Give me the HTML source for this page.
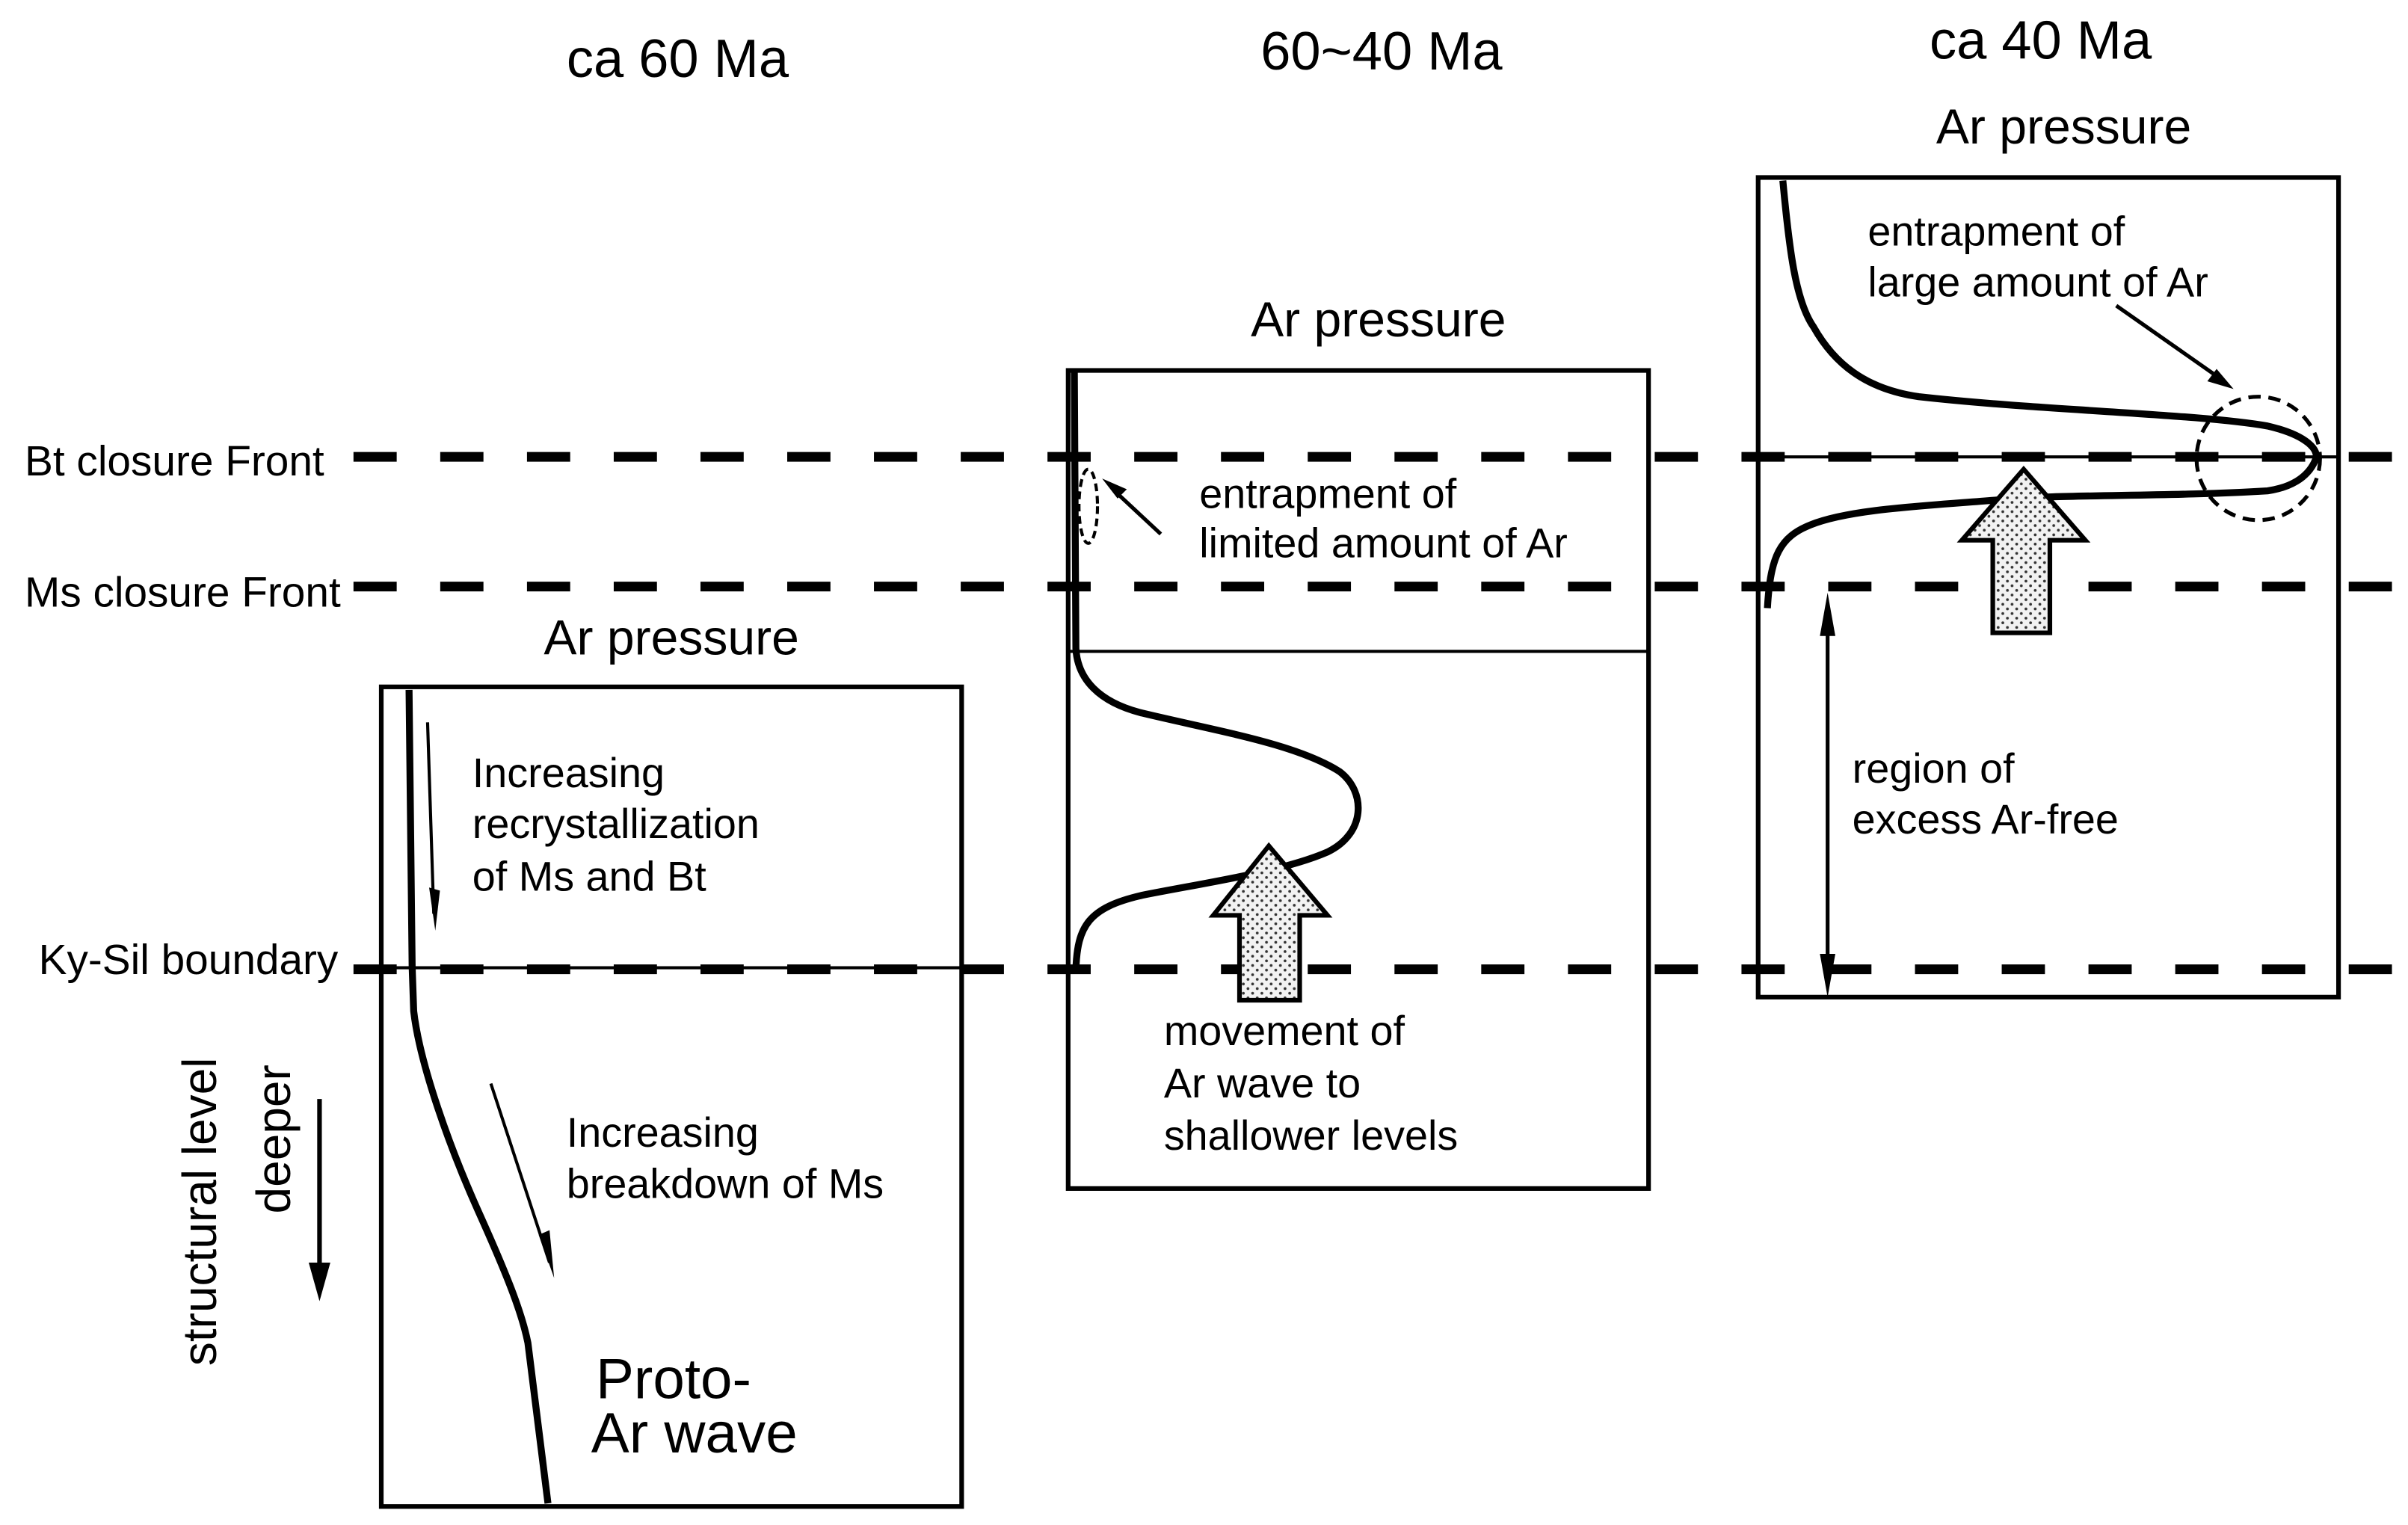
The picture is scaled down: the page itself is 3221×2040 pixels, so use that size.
<!DOCTYPE html>
<html><head><meta charset="utf-8"><style>
html,body{margin:0;padding:0;background:#fff}
svg{display:block}
text{font-family:"Liberation Sans",Arial,sans-serif;fill:#000}
</style></head><body>
<svg width="3221" height="2040" viewBox="0 0 1560 988" preserveAspectRatio="none" xmlns="http://www.w3.org/2000/svg">
<defs>
<pattern id="dots" width="6" height="6" patternUnits="userSpaceOnUse">
<rect width="6" height="6" fill="#f2f2f2"/>
<circle cx="1.5" cy="1.5" r="0.9" fill="#333"/>
<circle cx="4.5" cy="4.5" r="0.9" fill="#333"/>
</pattern>
</defs>
<g font-size="35">
<text x="439" y="50" text-anchor="middle">ca 60 Ma</text>
<text x="895" y="45" text-anchor="middle">60~40 Ma</text>
<text x="1322" y="38" text-anchor="middle">ca 40 Ma</text>
</g>
<g font-size="32">
<text x="435" y="424" text-anchor="middle">Ar pressure</text>
<text x="893" y="218" text-anchor="middle">Ar pressure</text>
<text x="1337" y="93" text-anchor="middle">Ar pressure</text>
</g>
<g font-size="27.5">
<text x="16" y="308">Bt closure Front</text>
<text x="16" y="393">Ms closure Front</text>
<text x="25" y="631">Ky-Sil boundary</text>
</g>
<g fill="none" stroke="#000" stroke-width="3">
<rect x="247" y="445" width="376" height="531"/>
<rect x="692" y="240" width="376" height="530"/>
<rect x="1139" y="115" width="376" height="531"/>
<line x1="692" y1="422" x2="1068" y2="422" stroke-width="2"/>
<line x1="247" y1="627" x2="623" y2="627" stroke-width="2"/>
<line x1="1139" y1="296" x2="1515" y2="296" stroke-width="2"/>
</g>
<g stroke="#000" stroke-width="6.3" stroke-dasharray="28 28.2" fill="none">
<line x1="229" y1="296" x2="1550" y2="296"/>
<line x1="229" y1="380" x2="1550" y2="380"/>
<line x1="229" y1="628" x2="1550" y2="628"/>
</g>
<path d="M265,447 L267,626 L268,655 C272,690 292,745 310,785 C328,825 338,850 342,870 L355,974" fill="none" stroke="#000" stroke-width="4.5"/>
<line x1="277" y1="468" x2="281" y2="592" stroke="#000" stroke-width="2"/>
<path d="M282,603 L278,575 L285,577 Z" fill="#000"/>
<line x1="318" y1="702" x2="356" y2="818" stroke="#000" stroke-width="2"/>
<path d="M359,828 L349,800 L356,797 Z" fill="#000"/>
<g font-size="27">
<text x="306" y="510">Increasing</text>
<text x="306" y="543">recrystallization</text>
<text x="306" y="577">of Ms and Bt</text>
<text x="367" y="743">Increasing</text>
<text x="367" y="776">breakdown of Ms</text>
<text x="754" y="677">movement of</text>
<text x="754" y="711">Ar wave to</text>
<text x="754" y="745">shallower levels</text>
<text x="777" y="329">entrapment of</text>
<text x="777" y="361">limited amount of Ar</text>
<text x="1210" y="159">entrapment of</text>
<text x="1210" y="192">large amount of Ar</text>
<text x="1200" y="507">region of</text>
<text x="1200" y="540">excess Ar-free</text>
</g>
<g font-size="37">
<text x="386" y="906">Proto-</text>
<text x="383" y="941">Ar wave</text>
</g>
<text font-size="31" transform="translate(140,785) rotate(-90)" text-anchor="middle">structural level</text>
<text font-size="31" transform="translate(188,738) rotate(-90)" text-anchor="middle">deeper</text>
<line x1="207" y1="712" x2="207" y2="820" stroke="#000" stroke-width="3"/>
<path d="M200,818 L214,818 L207,843 Z" fill="#000"/>
<path d="M696,241 L697,420 C698,440 712,455 740,462 C790,474 840,482 868,500 C885,513 885,540 860,552 C830,565 780,572 740,580 C705,588 698,600 697,628" fill="none" stroke="#000" stroke-width="4.5"/>
<ellipse cx="705" cy="328" rx="6" ry="24" fill="none" stroke="#000" stroke-width="2" stroke-dasharray="5 3"/>
<line x1="752" y1="346" x2="722" y2="318" stroke="#000" stroke-width="2.5"/>
<path d="M714,310 L730,317 L724,323 Z" fill="#000"/>
<path d="M822,548 L860,593 L842,593 L842,648 L803,648 L803,593 L786,593 Z" fill="url(#dots)" stroke="#000" stroke-width="3"/>
<path d="M1155,117 C1159,160 1163,195 1175,212 C1188,235 1208,252 1243,257 C1323,266 1423,268 1469,276 C1495,282 1503,292 1500,298 C1495,310 1483,316 1469,318 C1403,322 1333,320 1293,324 C1243,328 1198,330 1173,340 C1153,348 1147,360 1145,394" fill="none" stroke="#000" stroke-width="4.5"/>
<circle cx="1463" cy="297" r="40" fill="none" stroke="#000" stroke-width="2.5" stroke-dasharray="8 5"/>
<line x1="1371" y1="198" x2="1438" y2="245" stroke="#000" stroke-width="2.5"/>
<path d="M1447,252 L1430,247 L1436,239 Z" fill="#000"/>
<path d="M1311,304 L1351,350 L1328,350 L1328,410 L1291,410 L1291,350 L1271,350 Z" fill="url(#dots)" stroke="#000" stroke-width="3"/>
<line x1="1184" y1="400" x2="1184" y2="630" stroke="#000" stroke-width="2.5"/>
<path d="M1184,384 L1179,412 L1189,412 Z" fill="#000"/>
<path d="M1184,646 L1179,618 L1189,618 Z" fill="#000"/>
</svg>
</body></html>
